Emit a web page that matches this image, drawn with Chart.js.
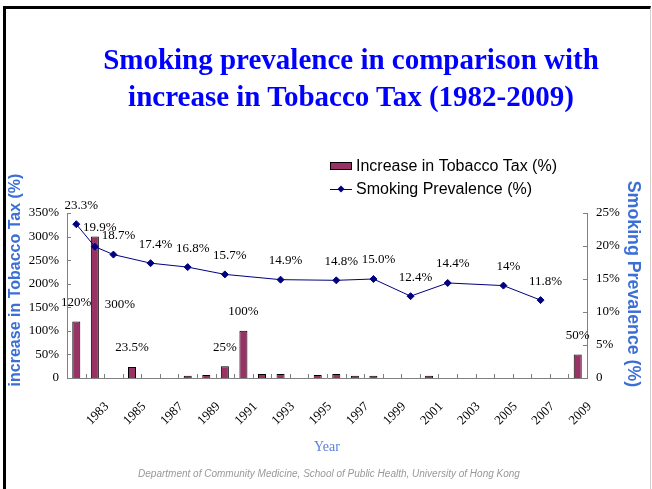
<!DOCTYPE html>
<html>
<head>
<meta charset="utf-8">
<script src="https://cdn.jsdelivr.net/npm/chart.js@4.4.0/dist/chart.umd.min.js"></script>
<style>
html, body { margin: 0; padding: 0; background: #fff; }
body { width: 652px; height: 489px; position: relative; overflow: hidden; }
#slide { position: absolute; left: 3px; top: 6px; width: 644px; height: 520px;
  border-left: 3px solid #000; border-top: 3px solid #000; border-right: 1px solid #d0d0d0; }
#title { position: absolute; left: 76px; top: 41px; width: 550px; text-align: center;
  font: bold 29px/37px "Liberation Serif", "Times New Roman", serif; color: #0000ff; }
#footer { position: absolute; left: 0; top: 468px; width: 658px; text-align: center;
  font: italic 10px/12px "Liberation Sans", Arial, sans-serif; color: #999; }
canvas { position: absolute; left: 0; top: 0; }
</style>
</head>
<body>
<div id="slide"></div>
<canvas id="taxChart" width="652" height="489"></canvas>
<div id="title">Smoking prevalence in comparison with<br>increase in Tobacco Tax (1982-2009)</div>
<div id="footer">Department of Community Medicine, School of Public Health, University of Hong Kong</div>
<script>
// Chart data
const years = ['1982', '1983', '1984', '1985', '1986', '1987', '1988', '1989', '1990', '1991',
    '1992', '1993', '1994', '1995', '1996', '1997', '1998', '1999', '2000', '2001',
    '2002', '2003', '2004', '2005', '2006', '2007', '2008', '2009'];

// increase in tobacco tax (%), by year
const taxIncrease = [120, 300, null, 23.5, null, null, 5, 6.5, 25, 100,
    8.5, 8.5, null, 6.5, 8.5, 5, 5, null, null, 5,
    null, null, null, null, null, null, null, 50];

// smoking prevalence (%), survey years only
const prevalence = [23.3, 19.9, 18.7, null, 17.4, null, 16.8, null, 15.7, null,
    null, 14.9, null, null, 14.8, null, 15.0, null, 12.4, null,
    14.4, null, null, 14.0, null, 11.8, null, null];
const prevalenceText = ['23.3%', '19.9%', '18.7%', null, '17.4%', null, '16.8%', null, '15.7%', null,
    null, '14.9%', null, null, '14.8%', null, '15.0%', null, '12.4%', null,
    '14.4%', null, null, '14%', null, '11.8%', null, null];

const taxTicks = [0, 50, 100, 150, 200, 250, 300, 350];
const prevalenceTicks = [0, 5, 10, 15, 20, 25];

const serif = '"Liberation Serif", "Times New Roman", serif';
const sans = '"Liberation Sans", Arial, sans-serif';

// small tick marks drawn on the inside of the axes
const innerTicks = {
    id: 'innerTicks',
    afterDatasetsDraw(chart) {
        const { ctx, chartArea: a, scales } = chart;
        ctx.save();
        ctx.strokeStyle = '#808080';
        ctx.lineWidth = 1;
        ctx.beginPath();
        for (let i = 0; i <= years.length; i++) {
            const px = Math.round(scales.x.getPixelForValue(i - 0.5)) + 0.5;
            ctx.moveTo(px, a.bottom);
            ctx.lineTo(px, a.bottom - 4);
        }
        scales.y.ticks.forEach(t => {
            const py = Math.round(scales.y.getPixelForValue(t.value)) + 0.5;
            ctx.moveTo(a.left, py);
            ctx.lineTo(a.left + 4, py);
        });
        scales.y1.ticks.forEach(t => {
            const py = Math.round(scales.y1.getPixelForValue(t.value)) + 0.5;
            ctx.moveTo(a.right, py);
            ctx.lineTo(a.right - 4, py);
        });
        ctx.stroke();
        ctx.restore();
    }
};

// value labels over bars and points
const valueLabels = {
    id: 'valueLabels',
    afterDatasetsDraw(chart) {
        const ctx = chart.ctx;
        ctx.save();
        ctx.font = '13px ' + serif;
        ctx.fillStyle = '#000';
        ctx.textAlign = 'center';
        ctx.textBaseline = 'middle';
        chart.getDatasetMeta(0).data.forEach((bar, i) => {
            const v = taxIncrease[i];
            if (v == null || v < 20) return;
            let x = bar.x, y = bar.y - 19;
            // the tallest bar has its label beside it
            if (i === 1) { x += 25; y = bar.y + 68; }
            ctx.fillText(v + '%', x, y);
        });
        chart.getDatasetMeta(1).data.forEach((pt, i) => {
            if (prevalenceText[i] == null) return;
            ctx.fillText(prevalenceText[i], pt.x + 5, pt.y - 19);
        });
        ctx.restore();
    }
};

// rotated axis titles, placed like the original slide
const axisTitles = {
    id: 'axisTitles',
    afterDraw(chart, args, opts) {
        const ctx = chart.ctx;
        opts.items.forEach(t => {
            const title = chart.options.scales[t.scale].title;
            ctx.save();
            ctx.translate(t.x, t.y);
            ctx.rotate(t.angle * Math.PI / 180);
            ctx.font = 'bold ' + t.size + 'px ' + sans;
            ctx.fillStyle = title.color;
            ctx.textAlign = 'center';
            ctx.textBaseline = 'middle';
            ctx.fillText(title.text, 0, 0);
            ctx.restore();
        });
    }
};

// legend stacked in the top right corner
const sideLegend = {
    id: 'sideLegend',
    afterDraw(chart, args, opts) {
        const ctx = chart.ctx;
        const [bars, line] = chart.data.datasets;
        ctx.save();
        ctx.font = '16px ' + sans;
        ctx.textBaseline = 'middle';
        ctx.fillStyle = bars.backgroundColor;
        ctx.fillRect(opts.x, opts.y - 3.5, 22, 7);
        ctx.strokeStyle = '#000';
        ctx.lineWidth = 1;
        ctx.strokeRect(opts.x + 0.5, opts.y - 3.5, 21, 7);
        ctx.fillStyle = '#000';
        ctx.fillText(bars.label, opts.x + 26, opts.y + 1);

        const ly = opts.y + opts.gap;
        ctx.strokeStyle = line.borderColor;
        ctx.beginPath();
        ctx.moveTo(opts.x, ly + 0.5);
        ctx.lineTo(opts.x + 22, ly + 0.5);
        ctx.stroke();
        ctx.fillStyle = line.borderColor;
        ctx.beginPath();
        ctx.moveTo(opts.x + 11, ly - 3.5);
        ctx.lineTo(opts.x + 14.5, ly);
        ctx.lineTo(opts.x + 11, ly + 3.5);
        ctx.lineTo(opts.x + 7.5, ly);
        ctx.closePath();
        ctx.fill();
        ctx.fillStyle = '#000';
        ctx.fillText(line.label, opts.x + 26, ly + 1);
        ctx.restore();
    }
};

const ctx = document.getElementById('taxChart').getContext('2d');
new Chart(ctx, {
    data: {
        labels: years,
        datasets: [{
            type: 'bar',
            label: 'Increase in Tobacco Tax (%)',
            data: taxIncrease,
            yAxisID: 'y',
            backgroundColor: '#993366',
            borderColor: '#000',
            borderWidth: 1,
            barPercentage: 0.9,
            categoryPercentage: 0.48,
            order: 2
        }, {
            type: 'line',
            label: 'Smoking Prevalence (%)',
            data: prevalence,
            yAxisID: 'y1',
            borderColor: '#000080',
            borderWidth: 1,
            pointStyle: 'rectRot',
            pointRadius: 3.5,
            pointBackgroundColor: '#000080',
            pointBorderColor: '#000080',
            spanGaps: true,
            tension: 0,
            order: 1
        }]
    },
    options: {
        responsive: false,
        animation: false,
        devicePixelRatio: 1,
        layout: { padding: { top: 213, left: 0, right: 0, bottom: 0 } },
        plugins: {
            legend: { display: false },
            tooltip: { enabled: false },
            sideLegend: { x: 330, y: 166, gap: 23 },
            axisTitles: {
                items: [
                    { scale: 'y', x: 16, y: 280, angle: -90, size: 16 },
                    { scale: 'y1', x: 633, y: 284, angle: 90, size: 17.8 }
                ]
            }
        },
        scales: {
            x: {
                offset: true,
                grid: { display: false, drawTicks: false },
                border: { color: '#808080' },
                ticks: {
                    autoSkip: false,
                    minRotation: 45,
                    maxRotation: 45,
                    padding: 21,
                    labelOffset: 12,
                    color: '#000',
                    font: { family: serif, size: 13 },
                    callback: (v, i) => (Number(years[i]) % 2 === 1 ? years[i] : '')
                },
                title: {
                    display: true,
                    text: 'Year',
                    color: '#5a7fdc',
                    font: { family: serif, size: 14 },
                    padding: { top: 0, bottom: 33 }
                },
                afterFit: s => { s.height = 111; }
            },
            y: {
                position: 'left',
                min: 0,
                max: 350,
                grid: { display: false, drawTicks: false },
                border: { color: '#808080' },
                afterBuildTicks: s => { s.ticks = taxTicks.map(v => ({ value: v })); },
                ticks: {
                    padding: 8,
                    color: '#000',
                    font: { family: serif, size: 13 },
                    callback: v => (v === 0 ? '0' : v + '%')
                },
                title: {
                    display: false,
                    text: 'increase in Tobacco Tax (%)',
                    color: '#3c6fd6'
                },
                afterFit: s => { s.width = 67; }
            },
            y1: {
                position: 'right',
                min: 0,
                max: 25,
                grid: { display: false, drawTicks: false },
                border: { color: '#808080' },
                afterBuildTicks: s => { s.ticks = prevalenceTicks.map(v => ({ value: v })); },
                ticks: {
                    padding: 9,
                    color: '#000',
                    font: { family: serif, size: 13 },
                    callback: v => (v === 0 ? '0' : v + '%')
                },
                title: {
                    display: false,
                    text: 'Smoking Prevalence (%)',
                    color: '#3c6fd6'
                },
                afterFit: s => { s.width = 65; }
            }
        }
    },
    plugins: [innerTicks, valueLabels, axisTitles, sideLegend]
});
</script>
</body>
</html>
